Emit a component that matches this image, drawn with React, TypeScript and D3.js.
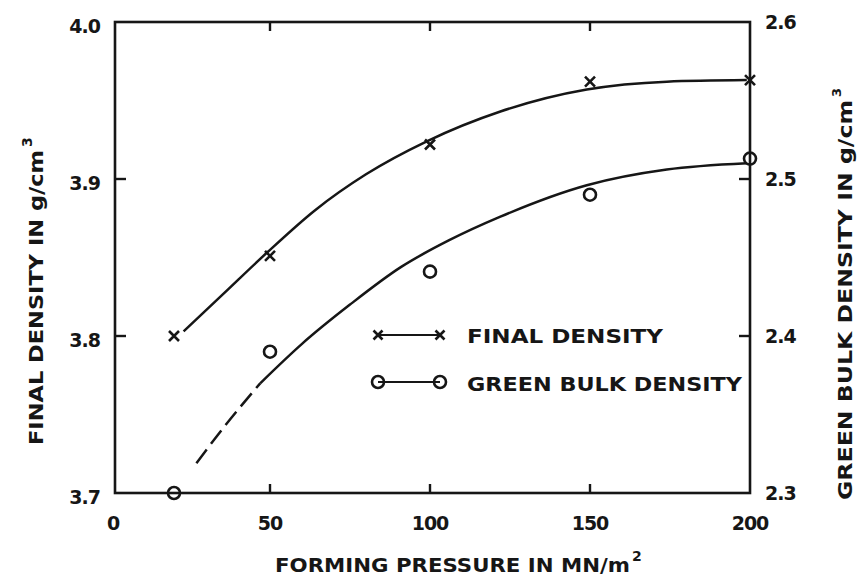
import React from "react";
import * as d3 from "d3";

// measured points (forming pressure, MN/m^2)
const pressure = [20, 50, 100, 150, 200];
const finalDensity = [3.8, 3.851, 3.922, 3.962, 3.963];
const greenDensity = [2.3, 2.39, 2.441, 2.49, 2.513];

// hand-drawn fitted curves
const finalCurveX = [23, 35, 49, 64, 80, 99, 122, 149, 174, 199];
const finalCurveY = [3.803, 3.826, 3.853, 3.88, 3.903, 3.924, 3.943, 3.957, 3.962, 3.963];
const greenCurveX = [27, 36, 47, 60, 75, 91, 106, 122, 149, 174, 199];
const greenCurveY = [2.319, 2.343, 2.37, 2.395, 2.42, 2.444, 2.461, 2.476, 2.496, 2.506, 2.51];
const dashedUntil = 47; // the green curve is dashed at low pressure

const xTicks = [0, 50, 100, 150, 200];
const leftTicks = [3.7, 3.8, 3.9, 4.0];
const rightTicks = [2.3, 2.4, 2.5, 2.6];

const W = 859;
const H = 582;
const frame = { left: 115, right: 750, top: 22, bottom: 493 };
const ink = "#161616";
const font = "'DejaVu Sans', sans-serif";

export default function App() {
  const x = d3.scaleLinear().domain([0, 200]).range([110, frame.right]);
  const yL = d3.scaleLinear().domain([3.7, 4.0]).range([frame.bottom, frame.top]);
  const yR = d3.scaleLinear().domain([2.3, 2.6]).range([frame.bottom, frame.top]);

  const line = (ys: d3.ScaleLinear<number, number>) =>
    d3
      .line<[number, number]>()
      .x((d) => x(d[0]))
      .y((d) => ys(d[1]))
      .curve(d3.curveMonotoneX);

  const finalCurve: [number, number][] = finalCurveX.map((v, i) => [v, finalCurveY[i]]);
  const greenCurve: [number, number][] = greenCurveX.map((v, i) => [v, greenCurveY[i]]);
  const greenDashed = greenCurve.filter((d) => d[0] <= dashedUntil);
  const greenSolid = greenCurve.filter((d) => d[0] >= dashedUntil);

  const cross = (cx: number, cy: number, s = 5, key?: React.Key) => (
    <path
      key={key}
      d={`M${cx - s},${cy - s}L${cx + s},${cy + s}M${cx - s},${cy + s}L${cx + s},${cy - s}`}
      stroke={ink}
      strokeWidth={2.6}
      fill="none"
    />
  );
  const ring = (cx: number, cy: number, key?: React.Key) => (
    <circle key={key} cx={cx} cy={cy} r={6} fill="none" stroke={ink} strokeWidth={2.6} />
  );

  const inner = [50, 100, 150];

  return (
    <svg
      width={W}
      height={H}
      style={{ position: "absolute", left: 0, top: 0, background: "#fff" }}
      fontFamily={font}
      fontWeight="bold"
      fill={ink}
    >
      {/* frame */}
      <rect
        x={frame.left}
        y={frame.top}
        width={frame.right - frame.left}
        height={frame.bottom - frame.top}
        fill="none"
        stroke={ink}
        strokeWidth={2.6}
      />
      {/* inward ticks */}
      {inner.map((v) => (
        <g key={"xt" + v} stroke={ink} strokeWidth={2.4}>
          <line x1={x(v)} x2={x(v)} y1={frame.bottom} y2={frame.bottom - 9} />
          <line x1={x(v)} x2={x(v)} y1={frame.top} y2={frame.top + 9} />
        </g>
      ))}
      {leftTicks.slice(1, 3).map((v) => (
        <line key={"lt" + v} x1={frame.left} x2={frame.left + 11} y1={yL(v)} y2={yL(v)} stroke={ink} strokeWidth={2.4} />
      ))}
      {rightTicks.slice(1, 3).map((v) => (
        <line key={"rt" + v} x1={frame.right} x2={frame.right - 11} y1={yR(v)} y2={yR(v)} stroke={ink} strokeWidth={2.4} />
      ))}

      {/* tick labels */}
      {xTicks.map((v) => (
        <text key={"xl" + v} x={x(v) + (v === 0 ? 3 : 0)} y={530} textAnchor="middle" fontSize={19} letterSpacing={-1}>
          {v}
        </text>
      ))}
      {leftTicks.map((v) => (
        <text key={"ll" + v} x={100} y={yL(v) + 11} textAnchor="end" fontSize={19} letterSpacing={-1}>
          {v.toFixed(1)}
        </text>
      ))}
      {rightTicks.map((v) => (
        <text key={"rl" + v} x={765} y={yR(v) + 7} textAnchor="start" fontSize={19} letterSpacing={-1}>
          {v.toFixed(1)}
        </text>
      ))}

      {/* curves */}
      <path d={line(yL)(finalCurve) ?? ""} fill="none" stroke={ink} strokeWidth={2.5} />
      <path d={line(yR)(greenSolid) ?? ""} fill="none" stroke={ink} strokeWidth={2.5} />
      <path d={line(yR)(greenDashed) ?? ""} fill="none" stroke={ink} strokeWidth={2.5} strokeDasharray="17 7" />

      {/* data points */}
      {pressure.map((p, i) => cross(x(p), yL(finalDensity[i]), 5, "fx" + p))}
      {pressure.map((p, i) => ring(x(p), yR(greenDensity[i]), "gr" + p))}

      {/* legend */}
      <line x1={378} x2={440} y1={335} y2={335} stroke={ink} strokeWidth={2.2} />
      {cross(378, 335, 4.5)}
      {cross(440, 335, 4.5)}
      <text x={467} y={343} fontSize={20} textLength={196} lengthAdjust="spacingAndGlyphs">
        FINAL DENSITY
      </text>
      <line x1={378} x2={440} y1={382} y2={382} stroke={ink} strokeWidth={2.2} />
      {ring(378, 382)}
      {ring(440, 382)}
      <text x={467} y={391} fontSize={20} textLength={275} lengthAdjust="spacingAndGlyphs">
        GREEN  BULK DENSITY
      </text>

      {/* axis titles */}
      <text x={275} y={572} fontSize={20} textLength={355} lengthAdjust="spacingAndGlyphs">
        FORMING PRESSURE IN MN/m
      </text>
      <text x={632} y={561} fontSize={14}>
        2
      </text>
      <g transform="translate(43,445) rotate(-90)">
        <text x={0} y={0} fontSize={20} textLength={295} lengthAdjust="spacingAndGlyphs">
          FINAL DENSITY IN g/cm
        </text>
        <text x={298} y={-11} fontSize={14}>
          3
        </text>
      </g>
      <g transform="translate(852,500) rotate(-90)">
        <text x={0} y={0} fontSize={19} textLength={400} lengthAdjust="spacingAndGlyphs">
          GREEN BULK DENSITY IN g/cm
        </text>
        <text x={403} y={-11} fontSize={13}>
          3
        </text>
      </g>
    </svg>
  );
}
